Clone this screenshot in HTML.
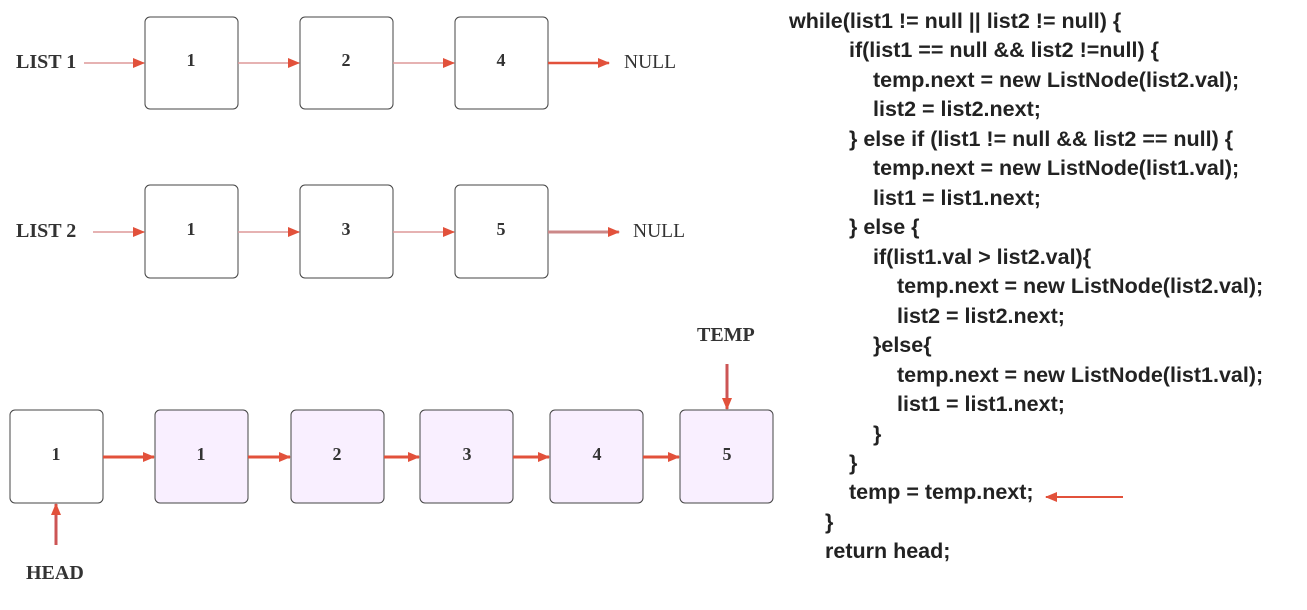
<!DOCTYPE html>
<html><head><meta charset="utf-8"><style>
html,body{margin:0;padding:0;background:#fff;}
svg{display:block;}
.lbl{font-family:"Liberation Serif",serif;font-weight:bold;font-size:20px;fill:#333;}
.num{font-family:"Liberation Serif",serif;font-weight:bold;font-size:18px;fill:#333;text-anchor:middle;}
.nul{font-family:"Liberation Serif",serif;font-size:19.5px;fill:#333;}
.code{font-family:"Liberation Sans",sans-serif;font-weight:bold;font-size:21.5px;fill:#222;}
</style></head><body>
<svg width="1307" height="610" viewBox="0 0 1307 610">
<defs>
<marker id="ah" markerWidth="12" markerHeight="10" refX="11" refY="5" orient="auto" markerUnits="userSpaceOnUse">
<path d="M0,0 L12,5 L0,10 Z" fill="#e2513b"/></marker>
</defs>
<g>
<text class="lbl" x="16" y="68">LIST 1</text>
<line x1="84" y1="63" x2="144" y2="63" stroke="#d99" stroke-width="1.5" marker-end="url(#ah)"/>
<rect x="145" y="17" width="93" height="92" rx="5" fill="#fff" stroke="#444"/>
<text class="num" x="191" y="66">1</text>
<line x1="238" y1="63" x2="299" y2="63" stroke="#d99" stroke-width="1.5" marker-end="url(#ah)"/>
<rect x="300" y="17" width="93" height="92" rx="5" fill="#fff" stroke="#444"/>
<text class="num" x="346" y="66">2</text>
<line x1="393" y1="63" x2="454" y2="63" stroke="#d99" stroke-width="1.5" marker-end="url(#ah)"/>
<rect x="455" y="17" width="93" height="92" rx="5" fill="#fff" stroke="#444"/>
<text class="num" x="501" y="66">4</text>
<line x1="548" y1="63" x2="609" y2="63" stroke="#e2513b" stroke-width="2.5" marker-end="url(#ah)"/>
<text class="nul" x="624" y="68">NULL</text>
</g>
<g>
<text class="lbl" x="16" y="237">LIST 2</text>
<line x1="93" y1="232" x2="144" y2="232" stroke="#d99" stroke-width="1.5" marker-end="url(#ah)"/>
<rect x="145" y="185" width="93" height="93" rx="5" fill="#fff" stroke="#444"/>
<text class="num" x="191" y="235">1</text>
<line x1="238" y1="232" x2="299" y2="232" stroke="#d99" stroke-width="1.5" marker-end="url(#ah)"/>
<rect x="300" y="185" width="93" height="93" rx="5" fill="#fff" stroke="#444"/>
<text class="num" x="346" y="235">3</text>
<line x1="393" y1="232" x2="454" y2="232" stroke="#d99" stroke-width="1.5" marker-end="url(#ah)"/>
<rect x="455" y="185" width="93" height="93" rx="5" fill="#fff" stroke="#444"/>
<text class="num" x="501" y="235">5</text>
<line x1="548" y1="232" x2="619" y2="232" stroke="#c88" stroke-width="3" marker-end="url(#ah)"/>
<text class="nul" x="633" y="237">NULL</text>
</g>
<g>
<text class="lbl" x="697" y="341">TEMP</text>
<line x1="727" y1="364" x2="727" y2="409" stroke="#c55" stroke-width="3" marker-end="url(#ah)"/>
<rect x="10" y="410" width="93" height="93" rx="5" fill="#fff" stroke="#444"/>
<text class="num" x="56" y="460">1</text>
<line x1="103" y1="457" x2="154" y2="457" stroke="#e2513b" stroke-width="3" marker-end="url(#ah)"/>
<rect x="155" y="410" width="93" height="93" rx="5" fill="#f9efff" stroke="#444"/>
<text class="num" x="201" y="460">1</text>
<line x1="248" y1="457" x2="290" y2="457" stroke="#e2513b" stroke-width="3" marker-end="url(#ah)"/>
<rect x="291" y="410" width="93" height="93" rx="5" fill="#f9efff" stroke="#444"/>
<text class="num" x="337" y="460">2</text>
<line x1="384" y1="457" x2="419" y2="457" stroke="#e2513b" stroke-width="3" marker-end="url(#ah)"/>
<rect x="420" y="410" width="93" height="93" rx="5" fill="#f9efff" stroke="#444"/>
<text class="num" x="467" y="460">3</text>
<line x1="513" y1="457" x2="549" y2="457" stroke="#e2513b" stroke-width="3" marker-end="url(#ah)"/>
<rect x="550" y="410" width="93" height="93" rx="5" fill="#f9efff" stroke="#444"/>
<text class="num" x="597" y="460">4</text>
<line x1="643" y1="457" x2="679" y2="457" stroke="#e2513b" stroke-width="3" marker-end="url(#ah)"/>
<rect x="680" y="410" width="93" height="93" rx="5" fill="#f9efff" stroke="#444"/>
<text class="num" x="727" y="460">5</text>
<line x1="56" y1="545" x2="56" y2="504" stroke="#c55" stroke-width="3" marker-end="url(#ah)"/>
<text class="lbl" x="26" y="579">HEAD</text>
</g>
<g>
<text class="code" x="789" y="28">while(list1 != null || list2 != null) {</text>
<text class="code" x="849" y="57">if(list1 == null &amp;&amp; list2 !=null) {</text>
<text class="code" x="873" y="87">temp.next = new ListNode(list2.val);</text>
<text class="code" x="873" y="116">list2 = list2.next;</text>
<text class="code" x="849" y="146">} else if (list1 != null &amp;&amp; list2 == null) {</text>
<text class="code" x="873" y="175">temp.next = new ListNode(list1.val);</text>
<text class="code" x="873" y="205">list1 = list1.next;</text>
<text class="code" x="849" y="234">} else {</text>
<text class="code" x="873" y="264">if(list1.val &gt; list2.val){</text>
<text class="code" x="897" y="293">temp.next = new ListNode(list2.val);</text>
<text class="code" x="897" y="323">list2 = list2.next;</text>
<text class="code" x="873" y="352">}else{</text>
<text class="code" x="897" y="382">temp.next = new ListNode(list1.val);</text>
<text class="code" x="897" y="411">list1 = list1.next;</text>
<text class="code" x="873" y="441">}</text>
<text class="code" x="849" y="470">}</text>
<text class="code" x="849" y="499">temp = temp.next;</text>
<text class="code" x="825" y="529">}</text>
<text class="code" x="825" y="558">return head;</text>
<line x1="1123" y1="497" x2="1046" y2="497" stroke="#e2513b" stroke-width="2" marker-end="url(#ah)"/>
</g>
</svg>
</body></html>
